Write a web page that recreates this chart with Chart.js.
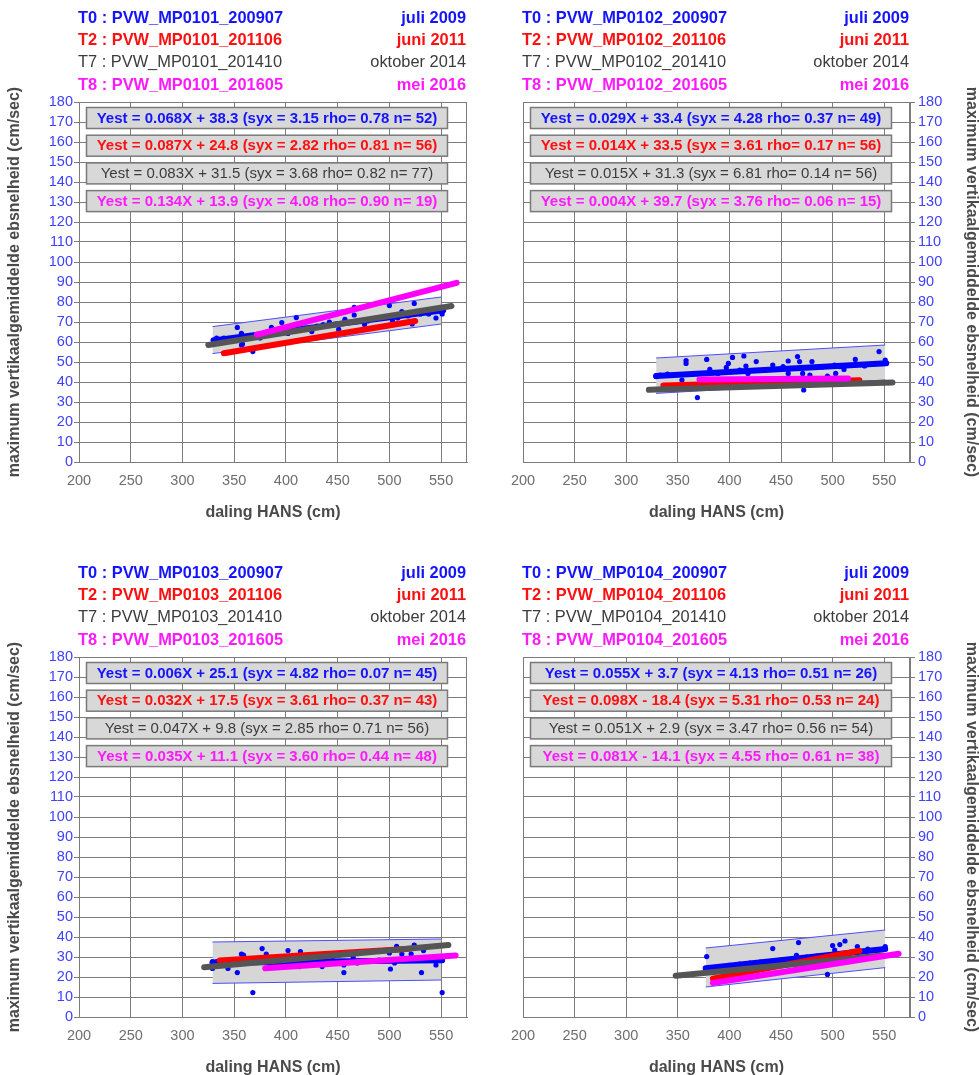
<!DOCTYPE html>
<html>
<head>
<meta charset="utf-8">
<title>PVW MP0101 - MP0104</title>
<script src="https://cdn.jsdelivr.net/npm/chart.js@4.4.0/dist/chart.umd.min.js"></script>
<style>
  html, body { margin: 0; padding: 0; overflow: hidden; background: #fff; }
  canvas { position: absolute; }
</style>
</head>
<body>
<canvas id="mp0101" width="490" height="555" style="left:0;top:0"></canvas>
<canvas id="mp0102" width="489" height="555" style="left:490px;top:0"></canvas>
<canvas id="mp0103" width="490" height="555" style="left:0;top:555px"></canvas>
<canvas id="mp0104" width="489" height="555" style="left:490px;top:555px"></canvas>
<script>
// campagnes
const campaigns = ['T0', 'T2', 'T7', 'T8'];
const campaignCodes = ['200907', '201106', '201410', '201605'];
const campaignMonths = ['juli 2009', 'juni 2011', 'oktober 2014', 'mei 2016'];
const xTicks = [200, 250, 300, 350, 400, 450, 500, 550];
const yTicks = [0, 10, 20, 30, 40, 50, 60, 70, 80, 90, 100, 110, 120, 130, 140, 150, 160, 170, 180];

// fit per campagne: helling, intercept, syx, rho, n
const fits0101 = [[0.068, 38.3, 3.15, 0.78, 52], [0.087, 24.8, 2.82, 0.81, 56], [0.083, 31.5, 3.68, 0.82, 77], [0.134, 13.9, 4.08, 0.90, 19]];
const fits0102 = [[0.029, 33.4, 4.28, 0.37, 49], [0.014, 33.5, 3.61, 0.17, 56], [0.015, 31.3, 6.81, 0.14, 56], [0.004, 39.7, 3.76, 0.06, 15]];
const fits0103 = [[0.006, 25.1, 4.82, 0.07, 45], [0.032, 17.5, 3.61, 0.37, 43], [0.047, 9.8, 2.85, 0.71, 56], [0.035, 11.1, 3.60, 0.44, 48]];
const fits0104 = [[0.055, 3.7, 4.13, 0.51, 26], [0.098, -18.4, 5.31, 0.53, 24], [0.051, 2.9, 3.47, 0.56, 54], [0.081, -14.1, 4.55, 0.61, 38]];

// regressielijnen (begin- en eindpunt), volgorde T0, T2, T7, T8
const lines0101 = [[[330, 60.8], [552, 75.8]], [[340, 54.4], [525, 70.5]], [[325, 58.5], [560, 78]], [[372, 63.7], [565, 89.6]]];
const lines0102 = [[[329, 43], [552, 49.4]], [[336, 38.2], [526, 40.9]], [[322, 36.1], [558, 39.7]], [[371, 41.2], [515, 41.8]]];
const lines0103 = [[[329, 27.1], [551, 28.4]], [[336, 28.3], [520, 34.1]], [[321, 24.9], [557, 36]], [[380, 24.4], [564, 30.8]]];
const lines0104 = [[[377, 24.4], [551, 34]], [[384, 19.2], [526, 33.1]], [[348, 20.6], [548, 30.8]], [[384, 17], [564, 31.6]]];

// betrouwbaarheidsband T0: x, boven, onder
const band0101 = [[329, 67.7, 54.2], [550, 82.5, 69]];
const band0102 = [[329, 52, 34.3], [551, 58.5, 41]];
const band0103 = [[329, 37.5, 16.8], [550, 39, 18.5]];
const band0104 = [[377, 34.5, 15], [551, 43.5, 24.7]];

// metingen T0
const points0101 = [[330, 61], [333, 62], [340, 62], [353, 67.3], [357, 64.3], [357, 58.5], [358, 59], [368, 55.2], [375, 62], [386, 67.3], [392, 66], [396, 69.7], [402, 64.3], [410, 72.2], [418, 67], [425, 65.2], [430, 68], [436, 68.7], [442, 70], [451, 66.3], [457, 71.3], [466, 73.5], [466, 77.3], [476, 68.7], [479, 70.5], [488, 72], [500, 78.2], [503, 70.5], [508, 72], [512, 75.2], [518, 73], [522, 69], [524, 79.3], [530, 74], [538, 74], [545, 72], [550, 75.2], [551, 74], [552, 76]];
const points0102 = [[329, 42.7], [333, 43.5], [340, 44], [354, 41], [358, 49.3], [358, 50.7], [369, 32.2], [378, 51.3], [381, 46.3], [389, 44.3], [397, 47.3], [399, 49.3], [403, 52.3], [410, 46], [414, 53], [416, 48], [418, 44.3], [426, 50.2], [435, 46], [442, 48.5], [452, 47.7], [457, 50.5], [457, 44.3], [466, 52.7], [468, 50.2], [471, 44.3], [472, 36], [478, 43.5], [480, 50.2], [490, 47.5], [495, 43], [502, 48.5], [503, 44.3], [507, 47.7], [511, 46.3], [522, 51.3], [531, 48], [540, 49], [545, 55.2], [551, 51], [552, 49.3]];
const points0103 = [[329, 27.7], [329, 24.3], [333, 27.7], [344, 24.3], [353, 22.2], [357, 31.5], [359, 31], [368, 12.2], [377, 34.2], [381, 31.5], [395, 27], [402, 33.2], [409, 25.5], [413, 25.2], [414, 32.7], [425, 28], [435, 25.2], [445, 28.5], [456, 22.2], [456, 26], [465, 30], [469, 27], [480, 28], [490, 28.5], [500, 32], [501, 24], [505, 27], [507, 35.3], [512, 31.5], [521, 31.5], [524, 36], [531, 22.2], [533, 33.2], [540, 28.5], [545, 26], [551, 12.2], [551, 28.5]];
const points0104 = [[378, 30.2], [380, 24.5], [390, 25], [400, 25.8], [410, 26.5], [420, 27], [430, 27.5], [442, 34.2], [450, 28.5], [460, 29], [465, 30.8], [467, 37.2], [475, 30], [485, 30.5], [495, 21.3], [500, 35.7], [502, 33.5], [507, 36.2], [512, 38], [520, 32.5], [524, 35.2], [530, 33], [534, 34], [545, 33.5], [550, 34.3], [551, 35.2]];

const family = "'Liberation Sans', Arial, sans-serif";
Chart.defaults.font.family = family;
const lineColors = ['#0000ff', '#ff0000', '#555555', '#ff00ff'];
const textColors = ['#1414ff', '#ff1010', '#3c3c3c', '#ff19ff'];
const boldRows = [true, true, false, true];
const gridColor = '#7c7c7c';
const yTitle = 'maximum vertikaalgemiddelde ebsnelheid (cm/sec)';

function eqText(f) {
  const sign = f[1] < 0 ? '-' : '+';
  return 'Yest = ' + f[0].toFixed(3) + 'X ' + sign + ' ' + Math.abs(f[1]).toFixed(1) +
    ' (syx = ' + f[2].toFixed(2) + ' rho= ' + f[3].toFixed(2) + ' n= ' + f[4] + ')';
}

const annotate = {
  id: 'annotate',
  beforeDatasetsDraw(chart) {
    const { ctx, chartArea: a } = chart;
    ctx.save();
    ctx.strokeStyle = gridColor;
    ctx.lineWidth = 1;
    ctx.strokeRect(Math.round(a.left) + 0.5, Math.round(a.top) + 0.5, Math.round(a.width) - 1, Math.round(a.height));
    ctx.restore();
  },
  afterDatasetsDraw(chart, args, opts) {
    const { ctx, chartArea: a } = chart;
    ctx.save();
    ctx.textBaseline = 'middle';
    for (let i = 0; i < 4; i++) {
      const weight = boldRows[i] ? 'bold ' : '';
      ctx.fillStyle = textColors[i];
      ctx.font = weight + '16.4px ' + family;
      const hy = 18.5 + 22.2 * i;
      ctx.textAlign = 'left';
      ctx.fillText(campaigns[i] + ' : PVW_' + opts.station + '_' + campaignCodes[i], a.left - 1, hy);
      ctx.textAlign = 'right';
      ctx.fillText(campaignMonths[i], a.right - 1, hy);

      const bx = Math.round(a.left) + 7.5, bw = 361, bh = 21;
      const cy = 118 + 27.7 * i;
      ctx.fillStyle = '#d8d8d8';
      ctx.fillRect(bx, cy - bh / 2, bw, bh);
      ctx.strokeStyle = '#7a7a7a';
      ctx.lineWidth = 1.5;
      ctx.strokeRect(bx, cy - bh / 2, bw, bh);
      ctx.fillStyle = textColors[i];
      ctx.font = weight + '15px ' + family;
      ctx.textAlign = 'center';
      ctx.fillText(eqText(opts.fits[i]), bx + bw / 2, cy + 0.5);
    }
    ctx.restore();
  }
};

function makeChart(id, side, station, fits, lines, band, points) {
  const datasets = [];
  for (let i = 3; i >= 0; i--) {
    datasets.push({
      data: lines[i].map(p => ({ x: p[0], y: p[1] })),
      showLine: true,
      borderColor: lineColors[i],
      borderWidth: 6,
      borderCapStyle: 'round',
      pointRadius: 0
    });
  }
  datasets.push({
    data: points.map(p => ({ x: p[0], y: p[1] })),
    pointRadius: 2.6,
    pointBackgroundColor: '#0000ff',
    pointBorderWidth: 0
  });
  datasets.push({
    data: band.map(p => ({ x: p[0], y: p[1] })),
    showLine: true,
    borderColor: '#4d4dff',
    borderWidth: 1,
    pointRadius: 0
  });
  datasets.push({
    data: band.map(p => ({ x: p[0], y: p[2] })),
    showLine: true,
    borderColor: '#4d4dff',
    borderWidth: 1,
    pointRadius: 0,
    fill: '-1',
    backgroundColor: '#d6d6d6'
  });

  const left = side === 'left';
  new Chart(document.getElementById(id), {
    type: 'scatter',
    data: { datasets },
    options: {
      responsive: false,
      animation: false,
      devicePixelRatio: 1,
      layout: { padding: { left: left ? 0 : 33, right: left ? 23 : 0, top: 102, bottom: 0 } },
      plugins: {
        legend: { display: false },
        tooltip: { enabled: false },
        annotate: { station, fits }
      },
      scales: {
        x: {
          type: 'linear',
          min: 200,
          max: 575,
          afterBuildTicks: s => { s.ticks = xTicks.map(v => ({ value: v })); },
          afterFit: s => { s.height = 93; },
          grid: { color: gridColor, lineWidth: 1, drawTicks: false },
          border: { color: gridColor },
          ticks: { color: '#6e6e6e', font: { size: 14.5 }, padding: 10, maxRotation: 0, autoSkip: false },
          title: {
            display: true, text: 'daling HANS (cm)', color: '#4a4a4a',
            font: { size: 16, weight: 'bold' }, padding: { top: 0, bottom: 33 }
          }
        },
        y: {
          type: 'linear',
          position: side,
          min: 0,
          max: 180,
          afterBuildTicks: s => { s.ticks = yTicks.map(v => ({ value: v })); },
          afterFit: s => { s.width = left ? 79 : 69; },
          grid: { color: gridColor, lineWidth: 1, drawTicks: true, tickLength: 5 },
          border: { color: gridColor },
          ticks: { color: '#4040ff', font: { size: 14.5 }, padding: left ? 1 : 3, autoSkip: false },
          title: {
            display: true, text: yTitle, color: '#4a4a4a',
            font: { size: 16, weight: 'bold', lineHeight: 1 }, padding: { top: left ? 6.5 : 0, bottom: 0 }
          }
        }
      }
    },
    plugins: [annotate]
  });
}

makeChart('mp0101', 'left', 'MP0101', fits0101, lines0101, band0101, points0101);
makeChart('mp0102', 'right', 'MP0102', fits0102, lines0102, band0102, points0102);
makeChart('mp0103', 'left', 'MP0103', fits0103, lines0103, band0103, points0103);
makeChart('mp0104', 'right', 'MP0104', fits0104, lines0104, band0104, points0104);
</script>
</body>
</html>
